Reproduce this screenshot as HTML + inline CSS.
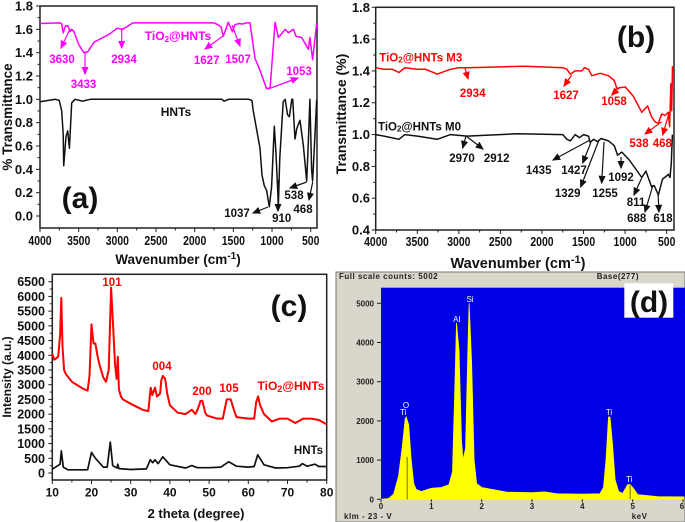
<!DOCTYPE html>
<html><head><meta charset="utf-8"><title>TiO2@HNTs characterization</title>
<style>
html,body{margin:0;padding:0;background:#fff}
svg{display:block;filter:blur(.35px)}
text{font-family:"Liberation Sans",sans-serif;font-weight:bold}
.m text{fill:#ff00ff;font-size:11.5px;text-anchor:middle}
.r text{fill:#f00;font-size:11.5px;text-anchor:middle}
.k text{fill:#111;font-size:11.5px;text-anchor:middle}
.m line{stroke:#ff00ff;stroke-width:1.2;marker-end:url(#am)}
.r line{stroke:#f00;stroke-width:1.2;marker-end:url(#ar)}
.k line{stroke:#111;stroke-width:1.2;marker-end:url(#ak)}
.big{font-size:30px;text-anchor:middle;fill:#111}
.eds{font-size:8px;fill:#222;letter-spacing:.5px}
.pk{font-size:8px;fill:#fff;text-anchor:middle;font-weight:normal}
</style></head>
<body>
<svg id="fig" xmlns="http://www.w3.org/2000/svg" width="685" height="522" viewBox="0 0 685 522">
<defs>
<marker id="am" markerWidth="7" markerHeight="6" refX="6" refY="3" orient="auto"><path d="M0 0L7 3L0 6z" fill="#ff00ff"/></marker>
<marker id="ar" markerWidth="7" markerHeight="6" refX="6" refY="3" orient="auto"><path d="M0 0L7 3L0 6z" fill="#f00"/></marker>
<marker id="ak" markerWidth="7" markerHeight="6" refX="6" refY="3" orient="auto"><path d="M0 0L7 3L0 6z" fill="#111"/></marker>
</defs>
<rect x="336" y="272" width="349" height="250" fill="#d9d6cb" stroke="#777"/>
<rect x="381" y="287.7" width="304" height="211.6" fill="#0000e6"/>
<g id="plots"></g>

<g class="m">
<line x1="70" y1="29" x2="61" y2="48"/><text x="62" y="63">3630</text>
<line x1="85" y1="53" x2="85" y2="74"/><text x="83.5" y="88">3433</text>
<line x1="121.7" y1="28" x2="121.7" y2="48"/><text x="124" y="63">2934</text>
<text x="178" y="40" style="font-size:12px">TiO<tspan dy="2" font-size="8">2</tspan><tspan dy="-2">@HNTs</tspan></text>
<line x1="223" y1="36" x2="205" y2="49"/><text x="206.7" y="64">1627</text>
<line x1="232" y1="25" x2="240" y2="46"/><text x="238" y="63">1507</text>
<line x1="268" y1="89" x2="298" y2="78"/><text x="299" y="75">1053</text>
</g>
<g class="k">
<text x="176" y="116" style="font-size:12px">HNTs</text>
<line x1="268" y1="207" x2="253" y2="213"/><text x="237" y="217">1037</text>
<line x1="278" y1="180" x2="278" y2="211"/><text x="281.7" y="222">910</text>
<line x1="306.7" y1="182" x2="290" y2="188"/><text x="294" y="199">538</text>
<line x1="312.7" y1="182" x2="309" y2="200"/><text x="303" y="213">468</text>
</g>
<text class="big" x="80" y="208">(a)</text>

<g class="r">
<text x="379.3" y="61.7" style="text-anchor:start;font-size:11.5px">TiO<tspan font-size="8" dy="1">2</tspan><tspan dy="-1">@HNTs M3</tspan></text>
<line x1="465" y1="68" x2="468" y2="79"/><text x="472.7" y="97">2934</text>
<line x1="571.7" y1="75" x2="564" y2="86"/><text x="566" y="99">1627</text>
<line x1="620" y1="87" x2="611.7" y2="95"/><text x="614" y="105">1058</text>
<line x1="661.7" y1="121.7" x2="645" y2="134"/><text x="639" y="147">538</text>
<line x1="669" y1="113" x2="662.7" y2="135"/><text x="662.3" y="147">468</text>
</g>
<g class="k">
<text x="378" y="130.7" style="text-anchor:start">TiO<tspan font-size="8" dy="1">2</tspan><tspan dy="-1">@HNTs M0</tspan></text>
<line x1="466" y1="136" x2="462.7" y2="148"/><text x="462" y="162">2970</text>
<line x1="466" y1="136" x2="483" y2="149"/><text x="496.7" y="162">2912</text>
<line x1="590" y1="140" x2="553" y2="160"/><text x="538.7" y="174">1435</text>
<line x1="590.7" y1="143" x2="582.7" y2="163"/><text x="574" y="174">1427</text>
<line x1="599" y1="140" x2="580.7" y2="187"/><text x="567.7" y="197">1329</text>
<line x1="604" y1="142" x2="601.7" y2="183"/><text x="605" y="197">1255</text>
<line x1="621" y1="157" x2="621" y2="168"/><text x="621" y="181">1092</text>
<line x1="641.7" y1="178" x2="634" y2="195"/><text x="636" y="206">811</text>
<line x1="653" y1="185" x2="645" y2="212"/><text x="636.7" y="222">688</text>
<line x1="658" y1="193" x2="659" y2="212"/><text x="663" y="222">618</text>
</g>
<text class="big" x="636" y="47">(b)</text>

<g class="r">
<text x="112" y="286">101</text>
<text x="162" y="370">004</text>
<text x="202" y="395">200</text>
<text x="229" y="392">105</text>
<text x="291" y="390" style="font-size:12px">TiO<tspan dy="2" font-size="9">2</tspan><tspan dy="-2">@HNTs</tspan></text>
</g>
<text x="308.5" y="454" style="font-size:11.5px;text-anchor:middle;fill:#111">HNTs</text>
<text class="big" x="289" y="316">(c)</text>

<text x="178" y="264" style="font-size:13.5px;text-anchor:middle;fill:#111">Wavenumber (cm<tspan dy="-5" font-size="10">-1</tspan><tspan dy="5">)</tspan></text>
<text x="518" y="268" style="font-size:14.5px;text-anchor:middle;fill:#111">Wavenumber (cm<tspan dy="-5" font-size="11">-1</tspan><tspan dy="5">)</tspan></text>
<text transform="translate(12,117) rotate(-90)" style="font-size:13.5px;text-anchor:middle;fill:#111">% Transmittance</text>
<text transform="translate(346,114) rotate(-90)" style="font-size:14px;text-anchor:middle;fill:#111">Transmittance (%)</text>
<text transform="translate(11,377) rotate(-90)" style="font-size:12px;text-anchor:middle;fill:#111">Intensity (a.u.)</text>
<text x="196" y="518" style="font-size:13px;text-anchor:middle;fill:#111">2 theta (degree)</text>

<text class="eds" x="339" y="279">Full scale counts: 5002</text>
<text class="eds" x="596.7" y="279">Base(277)</text>
<text class="eds" x="344" y="519">klm - 23 - V</text>
<text class="eds" x="631.7" y="519">keV</text>
<text class="pk" x="406" y="408">O</text>
<text class="pk" x="403.3" y="415">Ti</text>
<text class="pk" x="456.7" y="322">Al</text>
<text class="pk" x="470" y="302">Si</text>
<text class="pk" x="609" y="415">Ti</text>
<text class="pk" x="629.3" y="482">Ti</text>
<rect x="624.3" y="283.3" width="49" height="34.4" fill="#fff"/>
<text class="big" x="649" y="312">(d)</text>
</svg>
<script>
const aTio2Wave=[4000,3750,3720,3700,3670,3640,3610,3590,3560,3500,3433,3380,3300,3100,3000,2934,2880,2800,1750,1700,1660,1630,1565,1513,1480,1420,1380,1340,1285,1220,1155,1070,1025,960,918,830,788,724,690,616,530,510,475,422];
const aTio2Vals=[1.65,1.655,1.65,1.57,1.63,1.63,1.58,1.6,1.58,1.47,1.4,1.41,1.49,1.56,1.61,1.6,1.62,1.655,1.655,1.64,1.62,1.54,1.66,1.58,1.64,1.65,1.645,1.655,1.655,1.35,1.25,1.09,1.1,1.66,1.53,1.6,1.57,1.6,1.54,1.53,1.43,1.53,1.34,1.65];
const aHntWave=[4000,3800,3750,3720,3700,3694,3664,3642,3620,3590,3547,3450,3350,1700,1650,1620,1560,1300,1260,1242,1155,1130,1100,1070,1035,1005,970,950,918,900,855,830,800,775,745,733,703,680,638,595,552,530,510,488,475,444,422];
const aHntVals=[0.98,1,0.99,0.9,0.7,0.43,0.68,0.73,0.58,0.97,1,0.985,1,1,1,0.985,1,1,0.99,0.9,0.58,0.35,0.26,0.22,0.08,0.25,0.77,0.55,0.1,0.5,0.98,1,0.87,0.85,1,1,0.66,0.75,0.82,0.6,0.3,0.65,1,0.4,0.3,0.7,1];
const aXTicks=[4000,3500,3000,2500,2000,1500,1000,500];
const aYTicks=[0,0.2,0.4,0.6,0.8,1,1.2,1.4,1.6,1.8];

const bM3Wave=[4000,3900,3800,3720,3650,3500,3400,3260,3100,3000,2900,2200,1750,1700,1660,1600,1520,1490,1440,1400,1300,1200,1130,1100,1000,900,800,730,680,640,600,560,520,480,465,450,440,430];
const bM3Vals=[1.42,1.41,1.41,1.39,1.42,1.41,1.41,1.38,1.41,1.42,1.42,1.43,1.42,1.41,1.38,1.4,1.4,1.42,1.41,1.37,1.385,1.37,1.34,1.29,1.3,1.24,1.14,1.18,1.11,1.08,1.07,1.13,1.12,1.14,1.05,1.32,1.15,1.43];
const bM0Wave=[4000,3900,3720,3650,3500,3260,3100,2900,2300,1750,1700,1660,1600,1550,1500,1440,1420,1380,1330,1290,1200,1130,1090,1040,950,800,750,680,650,600,550,500,480,460,445,432];
const bM0Vals=[1,0.99,0.97,1,0.99,0.97,1,0.99,1.005,1,0.97,0.96,1,0.98,1,0.99,0.95,0.97,0.955,0.975,0.96,0.93,0.87,0.89,0.84,0.73,0.77,0.67,0.68,0.62,0.72,0.74,0.75,0.73,0.82,1];
const bXTicks=[4000,3500,3000,2500,2000,1500,1000,500];
const bYTicks=[0.4,0.6,0.8,1,1.2,1.4,1.6,1.8];

const cTio2Theta=[10,10.5,11.5,12,12.3,12.6,13,13.5,15,18,19,19.5,20,20.5,21,21.5,22,23,23.7,24.4,25,25.5,26,26.4,26.7,27,27.5,28,30,33,34.5,35.1,35.5,36.2,36.7,37.5,37.8,38.2,38.8,39.3,40,42,44,45.6,46.5,47.2,47.8,48.3,49,49.5,52,53.5,54.5,55.5,56.2,57,60,61.5,62,62.5,63,64,66,68,70,72,74,76,78,80];
const cTio2Vals=[4050,3850,3950,4700,5950,4300,3500,3350,3100,2850,2800,3300,5050,4400,4400,4000,3700,3250,3100,3500,6300,5000,3700,3200,3950,2850,2600,2500,2350,2150,2100,2900,2650,2900,2600,2700,3150,3300,3200,2700,2300,2050,2000,2150,2000,2200,2450,2450,2050,1950,1850,1850,2500,2500,2200,1900,1850,1850,2400,2600,2300,2000,1750,1850,1850,1700,1850,1850,1800,1650];
const cHntTheta=[10,12,12.3,12.8,14,19,20,21,23,24,24.8,25.4,26.5,26.7,27,30,34,35,35.6,36.2,37,38.2,40,44,45.6,47,50,53,55,57,60,61.5,62.4,64,67,70,73,73.8,75,77,78,80];
const cHntVals=[130,300,750,200,110,110,700,500,200,200,1050,250,170,300,150,120,140,450,350,450,320,550,280,170,250,180,180,200,380,230,200,220,620,280,170,180,230,320,230,300,220,220];
const cXTicks=[10,20,30,40,50,60,70,80];
const cYTicks=[0,500,1000,1500,2000,2500,3000,3500,4000,4500,5000,5500,6000,6500];

const dKev=[0,0.15,0.25,0.35,0.42,0.48,0.5,0.55,0.6,0.65,0.7,0.8,1,1.2,1.35,1.42,1.47,1.5,1.55,1.6,1.63,1.68,1.72,1.75,1.8,1.85,1.9,2,2.5,3,3.25,3.5,4,4.35,4.42,4.47,4.52,4.55,4.6,4.65,4.72,4.8,4.9,4.95,5,5.1,5.5,6,6.02];
const dCounts=[0,20,130,600,1300,2050,2100,1900,1000,400,250,200,280,300,370,700,3000,4500,3800,1500,1000,1300,3500,5000,3500,1000,400,300,180,170,190,140,130,140,300,1000,2100,2100,1400,500,200,150,370,380,300,120,70,60,60];
const dXTicks=[0,1,2,3,4,5,6];
const dYTicks=[0,1000,2000,3000,4000,5000];

const NS='http://www.w3.org/2000/svg';
const root=document.getElementById('plots');
function linear(d0,d1,r0,r1){return v=>r0+(v-d0)*(r1-r0)/(d1-d0);}
function add(tag,attrs,parent){const e=document.createElementNS(NS,tag);for(const k in attrs)e.setAttribute(k,attrs[k]);(parent||root).appendChild(e);return e;}
function series(xs,ys,sx,sy,color,name,w){
  const e=add('polyline',{points:xs.map((x,i)=>sx(x).toFixed(1)+','+sy(ys[i]).toFixed(1)).join(' '),fill:'none',stroke:color,'stroke-width':w||1.5,'stroke-linejoin':'round'});
  
  
}
function tick(x1,y1,x2,y2,color,name){
  const e=add('line',{x1,y1,x2,y2,stroke:color,'stroke-width':1});
  
  
}
function label(x,y,txt,anchor,size,name,color,extra){
  const e=add('text',Object.assign({x,y,'text-anchor':anchor,style:'font-size:'+size+'px;fill:'+(color||'#111')},extra||{}));
  e.textContent=txt;
  
  
}
function panel(id,sx,sy,box,xt,yt,fy,lx,by,fs,ys,charW){
  const f=add('rect',{x:box[0],y:box[1],width:box[2]-box[0],height:box[3]-box[1],fill:'none',stroke:'#222','stroke-width':1.5});
  
  
  xt.forEach((v,i)=>{
    const x=sx(v);
    tick(x,box[3],x,box[3]+4,'#222',id+'-x-tick');
    const s=String(v);
    label(x,by,s,'middle',fs,id+'-x-tick-label','#111',charW?{textLength:charW*s.length,lengthAdjust:'spacingAndGlyphs'}:{});
    if(i<xt.length-1){const m=(v+xt[i+1])/2;tick(sx(m),box[3],sx(m),box[3]+2.5,'#222',id+'-x-minor-tick');}
  });
  yt.forEach((v,i)=>{
    const y=sy(v);
    tick(box[0]-4,y,box[0],y,'#222',id+'-y-tick');
    label(lx,y+4.5,fy(v),'end',ys,id+'-y-tick-label');
    if(i<yt.length-1){const m=(v+yt[i+1])/2;tick(box[0]-2.5,sy(m),box[0],sy(m),'#222',id+'-y-minor-tick');}
  });
}
const f1=v=>v.toFixed(1), f0=v=>String(v);

const ax=linear(4000,500,40,310.7), ay=linear(0,1.8,216,6);
panel('panel-a',ax,ay,[40,6,317,228],aXTicks,aYTicks,f1,33,245,13,13,5.8);
series(aTio2Wave,aTio2Vals,ax,ay,'#ff00ff','tio2-hnts-spectrum-a');
series(aHntWave,aHntVals,ax,ay,'#111','hnts-spectrum-a');

const bx=linear(4000,500,375.7,666.7), by=linear(0.4,1.8,230,7.3);
panel('panel-b',bx,by,[375.7,7.3,674,230],bXTicks,bYTicks,f1,370,246,13,13,5.8);
series(bM3Wave,bM3Vals,bx,by,'#f00','tio2-hnts-m3-spectrum');
series(bM0Wave,bM0Vals,bx,by,'#111','tio2-hnts-m0-spectrum');

const cx=linear(10,80,52.3,326.7), cy=linear(0,6500,473,281.7);
panel('panel-c',cx,cy,[52.3,274.3,326.7,480],cXTicks,cYTicks,f0,45,496.5,12,12.5,0);
series(cTio2Theta,cTio2Vals,cx,cy,'#f00','tio2-hnts-xrd-pattern',2);
series(cHntTheta,cHntVals,cx,cy,'#111','hnts-xrd-pattern',1.7);

const dx=linear(0,6,381,683), dy=linear(0,5000,499.3,303.3);
const area=add('polygon',{points:dKev.map((k,i)=>dx(k).toFixed(1)+','+dy(dCounts[i]).toFixed(1)).join(' ')+' '+dx(6.02).toFixed(1)+','+dy(0)+' '+dx(0)+','+dy(0),fill:'#ffff00',stroke:'#ffff00','stroke-width':.8});


tick(dx(0.52),dy(1080),dx(0.52),dy(0),'#776a00','eds-ti-marker');
tick(dx(4.95),dy(380),dx(4.95),dy(0),'#776a00','eds-ti-marker');
dXTicks.forEach(v=>{
  tick(dx(v),dy(0),dx(v),dy(0)+3,'#222','eds-x-tick');
  label(v===6?dx(v)-1:dx(v),509,String(v),'middle',8,'eds-x-tick-label','#222');
});
dYTicks.forEach(v=>{
  tick(377,dy(v),381,dy(v),'#222','eds-y-tick');
  label(374,dy(v)+3,String(v),'end',8,'eds-y-tick-label','#222');
});
</script>
</body></html>
